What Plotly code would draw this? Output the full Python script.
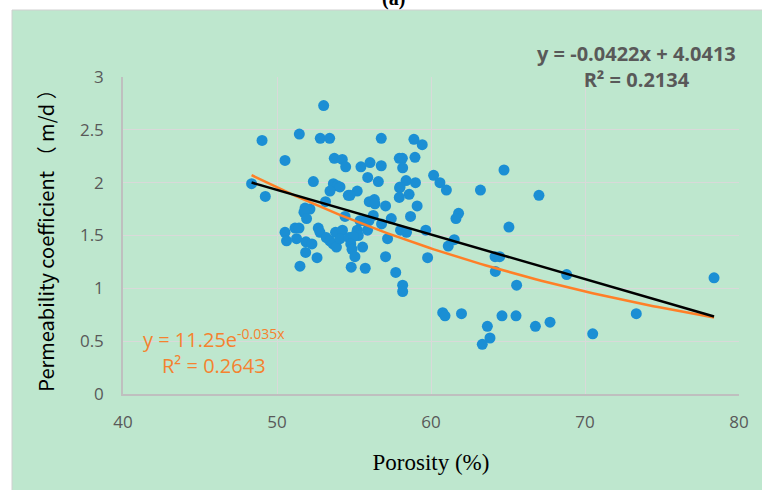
import plotly.graph_objects as go
import numpy as np

# Porosity (%) and permeability coefficient (m/d)
porosity = [48.35, 49.03, 49.24, 50.52, 50.52, 50.62, 51.45, 51.17, 51.43, 51.27,
            51.49, 51.82, 52.14, 51.75, 51.92, 51.88, 52.27, 51.86, 52.60, 52.36,
            52.81, 53.03, 53.42, 53.72, 54.24, 54.46, 53.66, 53.92, 54.09, 53.44,
            54.63, 53.15, 54.42, 52.68, 52.79, 53.20, 53.43, 53.64, 53.86, 53.80,
            54.25, 54.09, 54.68, 56.77, 58.89, 59.43, 55.45, 56.04, 56.77, 57.94,
            58.14, 58.16, 58.96, 55.89, 56.58, 55.21, 54.74, 58.38, 58.99, 57.96,
            58.58, 57.94, 55.99, 56.32, 56.36, 57.05, 59.10, 60.17, 60.58, 61.00,
            63.21, 64.74, 67.01, 61.79, 61.62, 58.67, 56.25, 55.65, 55.97, 57.42,
            58.02, 58.41, 59.66, 65.06, 61.51, 61.12, 57.18, 55.21, 55.28, 54.96,
            54.79, 55.56, 54.87, 55.06, 57.05, 59.78, 64.16, 64.46, 54.82, 55.73,
            57.71, 58.16, 58.16, 64.18, 65.56, 68.81, 60.76, 60.91, 61.98, 63.66,
            63.83, 63.33, 64.61, 65.52, 66.78, 67.73, 70.50, 73.33, 78.38, 55.39,
            55.88, 56.79, 57.99]
permeability = [1.99, 2.40, 1.87, 2.21, 1.53, 1.45, 2.46, 1.57, 1.57, 1.47,
                1.21, 1.76, 1.75, 1.72, 1.66, 1.44, 1.42, 1.34, 1.29, 2.01,
                2.42, 2.73, 2.42, 2.23, 2.22, 2.15, 1.99, 1.97, 1.96, 1.92,
                1.88, 1.82, 1.68, 1.57, 1.53, 1.48, 1.45, 1.42, 1.39, 1.53,
                1.55, 1.47, 1.48, 2.42, 2.41, 2.36, 2.15, 2.19, 2.16, 2.23,
                2.23, 2.14, 2.24, 2.05, 2.01, 1.92, 1.88, 2.02, 2.00, 1.95,
                1.89, 1.86, 1.82, 1.84, 1.80, 1.78, 1.78, 2.07, 2.00, 1.93,
                1.93, 2.12, 1.88, 1.71, 1.66, 1.68, 1.69, 1.64, 1.64, 1.66,
                1.55, 1.53, 1.55, 1.58, 1.46, 1.40, 1.47, 1.55, 1.50, 1.49,
                1.42, 1.39, 1.37, 1.30, 1.30, 1.29, 1.30, 1.30, 1.20, 1.19,
                1.15, 1.03, 0.97, 1.16, 1.03, 1.13, 0.77, 0.74, 0.76, 0.64,
                0.53, 0.47, 0.74, 0.74, 0.64, 0.68, 0.57, 0.76, 1.10, 1.64,
                1.55, 1.61, 1.96]

# Trendline coefficients (from the chart's equations)
lin_slope, lin_intercept = -0.0422, 4.0413
exp_a, exp_b = 11.25, -0.035

x_ticks = [40, 50, 60, 70, 80]
y_ticks = [0, 0.5, 1, 1.5, 2, 2.5, 3]
y_tick_text = ["0", "0.5", "1", "1.5", "2", "2.5", "3"]

xfit = np.linspace(min(porosity), max(porosity), 100)
y_lin = lin_slope * xfit + lin_intercept
y_exp = exp_a * np.exp(exp_b * xfit)

GREEN = "#BEE7CE"
GRID = "#D9D9D9"
TICK = "#595959"

fig = go.Figure()
fig.add_trace(go.Scatter(x=porosity, y=permeability, mode="markers",
                         marker=dict(color="#1B8FD4", size=11, line=dict(width=0)),
                         showlegend=False, hoverinfo="skip"))
fig.add_trace(go.Scatter(x=xfit, y=y_exp, mode="lines",
                         line=dict(color="#FF7F27", width=2.5), showlegend=False))
fig.add_trace(go.Scatter(x=xfit, y=y_lin, mode="lines",
                         line=dict(color="#000000", width=2.5), showlegend=False))

fig.update_layout(
    width=762, height=490,
    margin=dict(l=123, r=23, t=77, b=96),
    paper_bgcolor="white", plot_bgcolor=GREEN,
    shapes=[dict(type="rect", xref="paper", yref="paper",
                 x0=(12 - 123) / 616, x1=(765 - 123) / 616,
                 y0=(394 - 495) / 317, y1=(394 - 10) / 317,
                 fillcolor=GREEN, line=dict(color="#D0D0D0", width=1), layer="below")],
    xaxis=dict(range=[40, 80], tickvals=x_ticks, showgrid=True, gridcolor=GRID, gridwidth=1,
               zeroline=False, showline=True, linecolor="#BFBFBF", linewidth=1.5,
               ticks="", ticklabelstandoff=12,
               tickfont=dict(family="Open Sans", size=17, color=TICK),
               title=dict(text="Porosity (%)", font=dict(family="Liberation Serif", size=23, color="black"),
                          standoff=22)),
    yaxis=dict(range=[0, 3], tickvals=y_ticks, ticktext=y_tick_text, showgrid=True,
               gridcolor=GRID, gridwidth=1, zeroline=False, showline=True,
               linecolor="#BFBFBF", linewidth=1.5, ticks="", ticklabelstandoff=14,
               tickfont=dict(family="Open Sans", size=17, color=TICK),
               title=dict(text="Permeability coefficient （ m/d ）",
                          font=dict(family="Noto Sans CJK SC", size=20, color="black"),
                          standoff=20)),
    annotations=[
        dict(text="<b>(a)</b>", xref="paper", yref="paper", x=(393 - 123) / 616,
             y=(394 + 2) / 317, xanchor="center", yanchor="middle", showarrow=False,
             font=dict(family="Liberation Serif", size=20, color="black")),
        dict(text="<b>y = -0.0422x + 4.0413</b><br><b>R² = 0.2134</b>", xref="paper", yref="paper",
             x=(636 - 123) / 616, y=(394 - 67) / 317, xanchor="center", yanchor="middle",
             align="center", showarrow=False,
             font=dict(family="Open Sans", size=20, color="#595959")),
        dict(text="y = 11.25e<sup>-0.035x</sup><br>R² = 0.2643", xref="paper", yref="paper",
             x=(214 - 123) / 616, y=(394 - 351) / 317, xanchor="center", yanchor="middle",
             align="center", showarrow=False,
             font=dict(family="Open Sans", size=20, color="#F5822F")),
    ],
)

fig.write_html("out.html")
